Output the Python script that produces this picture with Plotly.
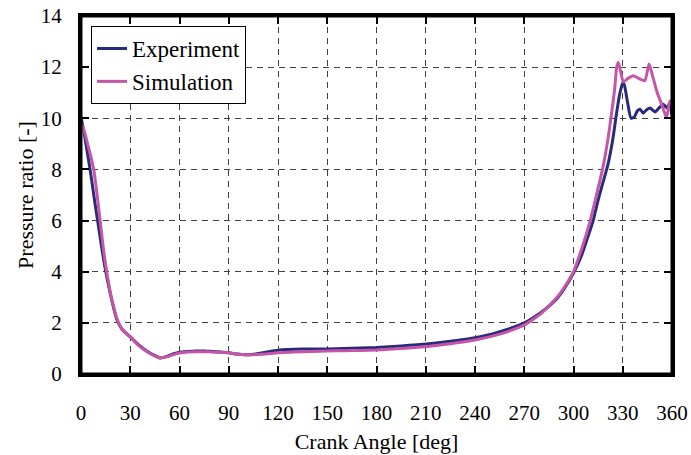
import plotly.graph_objects as go

# ---- data ----
exp_angle = [0, 2, 4, 6, 8, 10, 12, 14, 16, 18, 20, 22, 25, 30, 35, 40, 45, 48, 52, 56, 60, 65, 70, 75,
             80, 85, 90, 95, 100, 105, 110, 115, 120, 125, 130, 140, 150, 160, 170, 180, 190, 200, 210,
             220, 230, 240, 250, 260, 270, 280, 285, 290, 295, 300, 305, 310, 312, 315, 318, 321, 324,
             326, 328, 330, 331, 333, 335, 337, 339, 340.5, 342.5, 344, 346.6, 349.6, 352, 354.7, 357,
             358.5, 360]
exp_value = [10.05, 9.4, 8.6, 7.8, 6.9, 6.05, 5.2, 4.4, 3.7, 3.1, 2.55, 2.1, 1.75, 1.45, 1.15, 0.9, 0.72,
             0.63, 0.68, 0.78, 0.85, 0.88, 0.9, 0.9, 0.88, 0.86, 0.83, 0.78, 0.75, 0.77, 0.82, 0.88, 0.93,
             0.96, 0.97, 0.98, 0.98, 1.0, 1.02, 1.04, 1.08, 1.12, 1.17, 1.24, 1.32, 1.42, 1.56, 1.75, 2.0,
             2.4, 2.65, 2.95, 3.4, 3.95, 4.65, 5.6, 6.0, 6.8, 7.5, 8.2, 9.2, 10.1, 10.9, 11.4, 11.3, 10.6,
             10.0, 10.05, 10.3, 10.35, 10.2, 10.3, 10.4, 10.25, 10.4, 10.55, 10.4, 10.6, 10.1]

sim_angle = [0, 2, 4, 6, 8, 10, 12, 14, 16, 18, 20, 22, 25, 30, 35, 40, 45, 48, 52, 56, 60, 65, 70, 75,
             80, 85, 90, 95, 100, 105, 110, 115, 120, 130, 140, 150, 160, 170, 180, 190, 200, 210, 220,
             230, 240, 250, 260, 270, 280, 290, 295, 300, 305, 310, 314, 318, 321, 323, 325, 326.3, 327.3,
             328.5, 330.3, 333, 336.4, 340, 343.5, 346, 348, 351, 354, 356.7, 358.7, 360]
sim_value = [9.8, 9.5, 9.0, 8.5, 7.9, 6.9, 5.8, 4.7, 3.85, 3.15, 2.6, 2.15, 1.75, 1.45, 1.12, 0.88, 0.7,
             0.63, 0.67, 0.75, 0.82, 0.86, 0.87, 0.87, 0.86, 0.85, 0.83, 0.78, 0.75, 0.75, 0.77, 0.8,
             0.83, 0.86, 0.88, 0.9, 0.91, 0.92, 0.94, 0.98, 1.02, 1.07, 1.14, 1.23, 1.33, 1.47, 1.66,
             1.92, 2.35, 3.0, 3.45, 4.0, 4.9, 5.95, 7.0, 8.1, 9.2, 10.1, 11.1, 12.0, 12.18, 11.9, 11.42,
             11.55, 11.66, 11.55, 11.47, 12.12, 11.7, 11.0, 10.5, 10.02, 10.68, 10.6]

x_ticks = [0, 30, 60, 90, 120, 150, 180, 210, 240, 270, 300, 330, 360]
y_ticks = [0, 2, 4, 6, 8, 10, 12, 14]

FONT = "Liberation Serif"

fig = go.Figure()
fig.add_trace(go.Scatter(x=exp_angle, y=exp_value, mode="lines", name="Experiment",
                         line=dict(color="#2a2a7c", width=3, shape="spline", smoothing=0.5),
                         legendgroup="a"))
fig.add_trace(go.Scatter(x=sim_angle, y=sim_value, mode="lines", name="Simulation",
                         line=dict(color="#c455a8", width=3, shape="spline", smoothing=0.5),
                         legendgroup="b"))

axis_common = dict(showline=True, linecolor="black", linewidth=3, mirror="ticks",
                   ticks="inside", ticklen=8, tickwidth=1.5, tickcolor="black",
                   showgrid=True, gridcolor="#404040", gridwidth=1, griddash="6px,5px",
                   zeroline=False, automargin=False, ticklabeloverflow="allow",
                   tickfont=dict(family=FONT, size=21, color="black"))

fig.update_xaxes(range=[0, 360], tickvals=x_ticks, ticklabelstandoff=18,
                 title=dict(text="Crank Angle [deg]", font=dict(family=FONT, size=22, color="black"),
                            standoff=10),
                 **axis_common)
fig.update_yaxes(range=[0, 14], tickvals=y_ticks, ticklabelstandoff=12,
                 title=dict(text="Pressure ratio [-]", font=dict(family=FONT, size=22, color="black"),
                            standoff=2),
                 **axis_common)

# plot frame
fig.add_shape(type="rect", xref="paper", yref="paper", x0=0, y0=0, x1=1, y1=1,
              line=dict(color="black", width=3), fillcolor="rgba(0,0,0,0)", layer="above")

fig.update_layout(
    width=691, height=455,
    margin=dict(l=81, r=19, t=16, b=81, autoexpand=False),
    paper_bgcolor="white", plot_bgcolor="white",
    font=dict(family=FONT, color="black"),
    showlegend=True,
    legend=dict(x=0.017, y=0.972, xanchor="left", yanchor="top",
                bgcolor="white", bordercolor="black", borderwidth=1,
                font=dict(family=FONT, size=23, color="black"),
                tracegroupgap=0, itemwidth=30),
)

fig.write_html("out.html", config={"displayModeBar": False},
               post_script="document.body.style.margin='0';document.body.style.overflow='hidden';")
